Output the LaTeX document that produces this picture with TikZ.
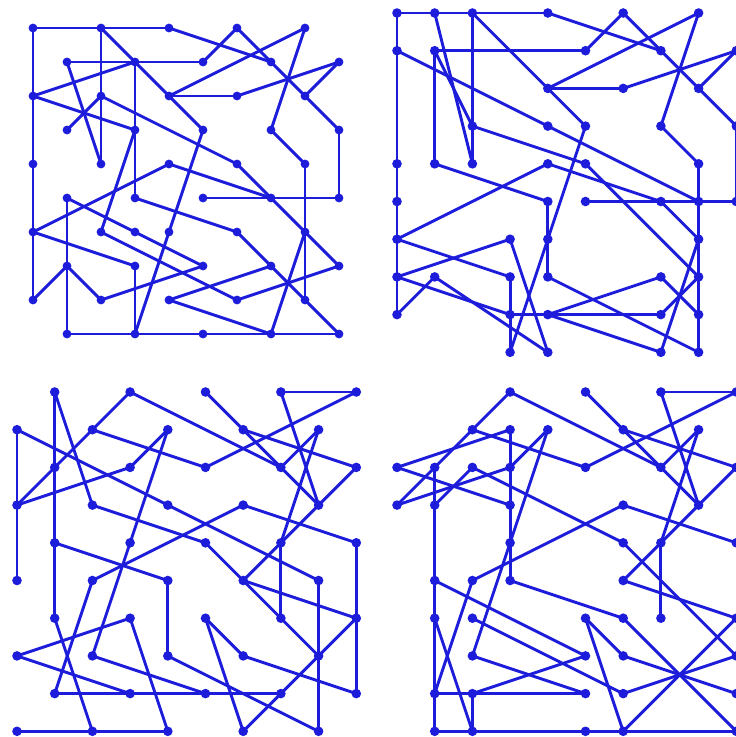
\documentclass[tikz,border=0pt]{standalone}
\usetikzlibrary{backgrounds}
\definecolor{gblue}{RGB}{28,28,218}
\begin{document}
\begin{tikzpicture}[x=1pt,y=-1pt,
  dot/.style={circle,fill=gblue,inner sep=0pt,minimum size=9.6pt},
  sdot/.style={circle,fill=gblue,inner sep=0pt,minimum size=8.8pt},
  edge/.style={draw=gblue,line width=2.9pt,line cap=round}]
\useasboundingbox (0,0) rectangle (736,737);
\clip (0,0) rectangle (736,737);
% ---------- panel 1 (top left)
\foreach \i/\j in {0/0,2/0,4/0,6/0,8/0, 1/1,3/1,5/1,7/1,9/1, 0/2,2/2,4/2,6/2,8/2,
  1/3,3/3,5/3,7/3,9/3, 0/4,2/4,4/4,6/4,8/4, 1/5,3/5,5/5,7/5,9/5,
  0/6,2/6,3/6,4/6,6/6,8/6, 1/7,3/7,5/7,7/7,9/7, 0/8,2/8,4/8,6/8,8/8,
  1/9,3/9,5/9,7/9,9/9}
  \node[sdot] (a\i\j) at ({33+34*\i},{28+34*\j}) {};
% ---------- panel 2 (top right)
\foreach \i/\j in {0/0,1/0,2/0,4/0,6/0,8/0, 0/1,1/1,5/1,7/1,9/1, 4/2,6/2,8/2,
  2/3,4/3,5/3,7/3,9/3, 0/4,1/4,2/4,4/4,5/4,8/4, 0/5,4/5,5/5,7/5,8/5,9/5,
  0/6,3/6,4/6,8/6, 0/7,1/7,3/7,4/7,7/7,8/7, 0/8,3/8,4/8,7/8,8/8,
  3/9,4/9,7/9,8/9}
  \node[dot] (b\i\j) at ({397+37.7*\i},{13+37.7*\j}) {};
% ---------- panel 3 (bottom left)
\foreach \i/\j in {1/0,3/0,5/0,7/0,9/0, 0/1,2/1,4/1,6/1,8/1, 1/2,3/2,5/2,7/2,9/2,
  0/3,2/3,4/3,6/3,8/3, 1/4,3/4,5/4,7/4,9/4, 0/5,2/5,4/5,6/5,8/5,
  1/6,3/6,5/6,7/6,9/6, 0/7,2/7,4/7,6/7,8/7, 1/8,3/8,5/8,7/8,9/8,
  0/9,2/9,4/9,6/9,8/9}
  \node[dot] (c\i\j) at ({17+37.7*\i},{392+37.7*\j}) {};
% ---------- panel 4 (bottom right)
\foreach \i/\j in {3/0,5/0,7/0,9/0, 2/1,3/1,4/1,6/1,8/1, 0/2,1/2,2/2,3/2,5/2,7/2,9/2,
  0/3,1/3,3/3,6/3,8/3, 3/4,6/4,7/4,9/4, 1/5,2/5,3/5,6/5,
  1/6,2/6,5/6,6/6,7/6,9/6, 2/7,5/7,6/7,9/7, 1/8,2/8,5/8,6/8,9/8,
  1/9,2/9,5/9,6/9,9/9}
  \node[dot] (d\i\j) at ({397+37.7*\i},{392+37.7*\j}) {};
\begin{scope}[on background layer]
\foreach \p/\q in {00/40,40/71,60/51,60/93,80/42,80/73,91/62,91/82,62/42,20/53,53/39,
  11/51,11/24,20/24,00/08,02/31,02/33,13/22,22/64,64/97,31/35,33/26,73/84,84/88,
  93/95,44/06,44/75,55/95,35/66,66/99,15/57,15/19,19/99,06/37,37/39,08/17,17/28,
  28/57,26/68,97/68,48/77,48/79,79/86}
  \draw[edge] (a\p.center) -- (a\q.center);
\foreach \p/\q in {00/40,40/71,60/51,60/93,80/42,80/73,91/62,91/82,62/42,20/53,53/39,
  11/51,00/08,20/24,11/14,10/24,11/23,01/85,23/54,54/87,73/84,84/89,93/95,06/44,
  44/75,75/86,55/95,14/45,45/47,06/37,07/36,07/38,08/17,17/49,36/49,37/39,38/78,
  47/89,48/77,48/79,77/88,78/87,79/86}
  \draw[edge] (b\p.center) -- (b\q.center);
\foreach \p/\q in {10/23,10/16,30/03,30/72,50/61,61/83,70/90,70/83,90/52,52/21,61/92,
  81/72,81/74,92/83,01/05,01/85,03/32,32/41,41/34,23/54,63/25,63/94,14/45,74/76,
  83/65,94/98,54/87,45/47,25/18,34/27,16/29,18/78,07/36,07/38,36/49,09/49,27/58,
  47/89,56/67,56/69,67/98,69/96,85/89,65/96}
  \draw[edge] (c\p.center) -- (c\q.center);
\foreach \p/\q in {30/03,30/72,50/61,61/83,70/90,70/83,90/52,52/21,61/92,81/72,81/74,
  92/83,02/31,02/33,03/32,13/22,32/41,31/35,12/19,22/64,64/97,63/25,63/94,83/65,
  74/76,41/34,34/27,25/18,15/57,35/66,65/96,66/99,56/67,56/69,67/98,68/97,69/96,
  28/57,27/58,18/58,16/29,19/99,26/68,28/29}
  \draw[edge] (d\p.center) -- (d\q.center);
\end{scope}
\end{tikzpicture}
\end{document}
